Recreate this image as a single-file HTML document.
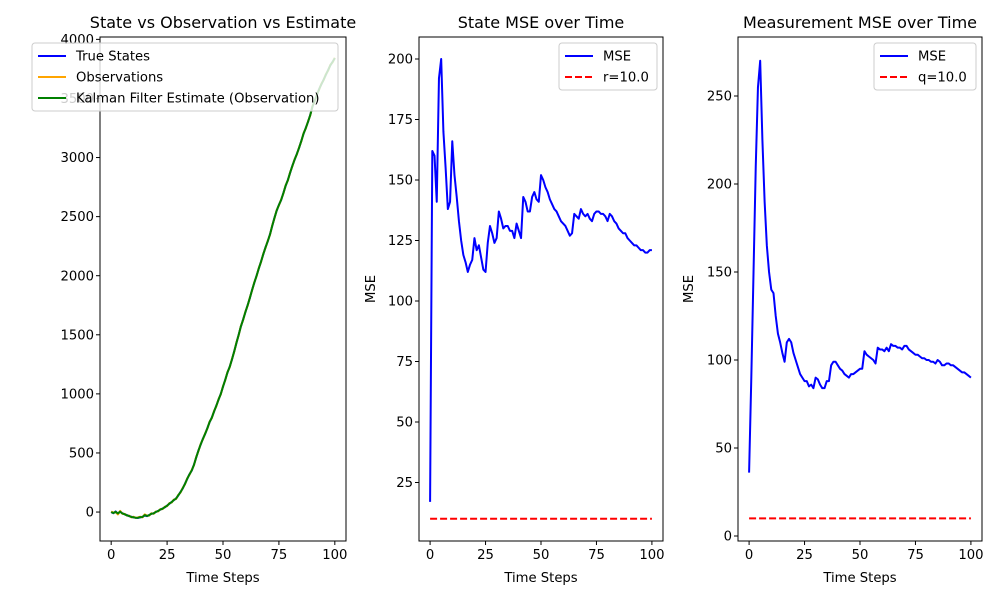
<!DOCTYPE html>
<html><head><meta charset="utf-8"><style>
body{margin:0;background:#fff}
svg{display:block;font-family:"DejaVu Sans","Liberation Sans",sans-serif}
</style></head><body>
<svg id="fig" width="1000" height="600" viewBox="0 0 1000 600" xmlns="http://www.w3.org/2000/svg"></svg>
<script>
const steps = Array.from({length:101},(_,i)=>i);
const trueStates = [0,-10,5,-15,5,-10,-20,-25,-35,-40,-45,-48,-50,-45,-40,-30,-35,-25,-15,-10,0,10,20,30,40,55,70,85,100,115,140,170,200,240,280,320,350,400,460,520,570,620,660,710,760,800,850,900,950,1000,1060,1120,1180,1230,1290,1360,1430,1500,1570,1630,1690,1750,1810,1880,1940,2000,2060,2120,2180,2240,2290,2350,2420,2490,2550,2600,2640,2700,2760,2810,2870,2930,2980,3030,3080,3140,3200,3250,3300,3360,3430,3480,3530,3580,3620,3660,3700,3740,3780,3810,3840];
const observations = [5,-5,0,-20,10,-15,-15,-30,-30,-45,-40,-50,-45,-40,-45,-20,-30,-30,-10,-15,5,5,25,25,45,50,75,80,105,110,145,165,205,235,285,315,355,395,465,515,575,615,665,705,765,795,855,895,955,995,1065,1115,1185,1225,1295,1355,1435,1495,1575,1625,1695,1745,1815,1875,1945,1995,2065,2115,2185,2235,2295,2345,2425,2485,2555,2595,2645,2695,2765,2805,2875,2925,2985,3025,3085,3135,3205,3245,3305,3355,3435,3475,3535,3575,3625,3655,3705,3735,3785,3805,3845];
const estimates = [0,-8,2,-12,3,-12,-18,-28,-33,-42,-44,-49,-48,-43,-42,-26,-33,-27,-13,-12,2,8,22,28,42,53,72,83,102,113,142,168,202,238,282,318,352,398,462,518,572,618,662,708,762,798,852,898,952,998,1062,1118,1182,1228,1292,1358,1432,1498,1572,1628,1692,1748,1812,1878,1942,1998,2062,2118,2182,2238,2292,2348,2422,2488,2552,2598,2642,2698,2762,2808,2872,2928,2982,3028,3082,3138,3202,3248,3302,3358,3432,3478,3532,3578,3622,3658,3702,3738,3782,3808,3842];
const stateMSE = [17,162,160,141,192,200,170,155,138,141,166,152,143,133,125,119,116,112,115,117,126,121,123,118,113,112,124,131,128,124,126,137,134,130,131,131,129,129,126,132,129,126,143,141,137,137,143,145,142,141,152,150,147,145,142,140,138,137,135,133,132,131,129,127,128,136,135,134,138,136,135,136,134,133,136,137,137,136,136,135,133,136,135,133,132,130,129,128,128,126,125,124,123,123,122,121,121,120,120,121,121];
const measMSE = [36,90,150,210,255,270,225,190,165,150,140,138,125,115,110,104,99,110,112,110,104,100,96,92,90,88,88,85,86,84,90,89,86,84,84,88,88,97,99,99,97,95,94,92,91,90,92,92,93,94,95,95,105,103,102,101,100,98,107,106,106,105,107,105,109,108,108,107,107,106,108,108,106,105,104,103,103,102,101,101,100,100,99,99,98,100,99,97,97,98,98,97,97,96,95,94,93,93,92,91,90];
const rValue = 10.0, qValue = 10.0;
const xTicks = [0,25,50,75,100];
const yTicks1 = [0,500,1000,1500,2000,2500,3000,3500,4000];
const yTicks2 = [25,50,75,100,125,150,175,200];
const yTicks3 = [0,50,100,150,200,250];

const svg = document.getElementById('fig');
const NS = 'http://www.w3.org/2000/svg';
function mk(tag, attrs, parent, text){
  const e = document.createElementNS(NS, tag);
  for (const k in attrs) e.setAttribute(k, attrs[k]);
  if (text !== undefined) e.textContent = text;
  (parent||svg).appendChild(e);
  return e;
}
function lin(d0,d1,r0,r1){return v=>r0+(v-d0)*(r1-r0)/(d1-d0);}

function axes(cfg){
  const g = mk('g',{});
  
  
  const X = lin(cfg.xd[0],cfg.xd[1],cfg.L,cfg.R);
  const Y = lin(cfg.yd[0],cfg.yd[1],cfg.B,cfg.T);
  cfg.series.forEach(s=>{
    const d = s.y.map((v,i)=>(i?'L':'M')+X(s.x[i]).toFixed(2)+','+Y(v).toFixed(2)).join('');
    const p = mk('path',{d, fill:'none', stroke:s.color, 'stroke-width':2, 'stroke-linejoin':'round', 'stroke-dasharray':s.dash||'none'}, g);
    
    
  });
  const fr = mk('rect',{x:cfg.L,y:cfg.T,width:cfg.R-cfg.L,height:cfg.B-cfg.T,fill:'none',stroke:'#000','stroke-width':1},g);
  
  
  xTicks.forEach(t=>{
    const x = X(t);
    mk('line',{x1:x,x2:x,y1:cfg.B,y2:cfg.B+4,stroke:'#000','stroke-width':1},g);
    const tl = mk('text',{x:x,y:cfg.B+18,'text-anchor':'middle','font-size':'13.2px'},g,String(t));
    
    
  });
  cfg.yt.forEach(t=>{
    const y = Y(t);
    mk('line',{x1:cfg.L-4,x2:cfg.L,y1:y,y2:y,stroke:'#000','stroke-width':1},g);
    const tl = mk('text',{x:cfg.L-6,y:y+4.6,'text-anchor':'end','font-size':'13.2px'},g,String(t));
    
    
  });
  const xl = mk('text',{x:(cfg.L+cfg.R)/2,y:cfg.B+41,'text-anchor':'middle','font-size':'13.2px'},g,'Time Steps');
  
  
  if (cfg.ylabel){
    const yl = mk('text',{x:0,y:0,'text-anchor':'middle','font-size':'13.2px',transform:`translate(${cfg.yl},${(cfg.T+cfg.B)/2}) rotate(-90)`},g,cfg.ylabel);
    
    
  }
  const ti = mk('text',{x:(cfg.L+cfg.R)/2,y:cfg.T-9,'text-anchor':'middle','font-size':'16px'},g,cfg.title);
  
  
  const lg = mk('g',{},g);
  
  
  const lb = cfg.legend;
  mk('rect',{x:lb.x,y:lb.y,width:lb.w,height:lb.items.length*21+5,rx:3,fill:'#fff','fill-opacity':0.8,stroke:'#ccc','stroke-width':1},lg);
  lb.items.forEach((it,i)=>{
    const yy = lb.y+13+i*21;
    mk('line',{x1:lb.x+6,x2:lb.x+34,y1:yy,y2:yy,stroke:it.color,'stroke-width':2,'stroke-dasharray':it.dash||'none'},lg);
    const t = mk('text',{x:lb.x+44,y:yy+4.6,'font-size':'13.2px'},lg,it.label);
    
    
  });
}

axes({name:'state-plot',L:100,R:346,T:37,B:541,xd:[-5,105],yd:[-245,4020],yt:yTicks1,
  title:'State vs Observation vs Estimate',
  series:[{id:'true-states-line',x:steps,y:trueStates,color:'#0000ff'},
          {id:'observations-line',x:steps,y:observations,color:'#ffa500'},
          {id:'estimate-line',x:steps,y:estimates,color:'#008000'}],
  legend:{x:32,y:43,w:306,items:[{label:'True States',color:'#0000ff'},{label:'Observations',color:'#ffa500'},{label:'Kalman Filter Estimate (Observation)',color:'#008000'}]}});

axes({name:'state-mse-plot',L:419,R:663,T:37,B:541,xd:[-5,105],yd:[200-(541-59)/2.42,200+(59-37)/2.42],yt:yTicks2,
  title:'State MSE over Time',ylabel:'MSE',yl:375,
  series:[{id:'state-mse-line',x:steps,y:stateMSE,color:'#0000ff'},
          {id:'r-reference-line',x:[0,100],y:[rValue,rValue],color:'#ff0000',dash:'7,3'}],
  legend:{x:559,y:43,w:98,items:[{label:'MSE',color:'#0000ff'},{label:'r='+rValue.toFixed(1),color:'#ff0000',dash:'7,3'}]}});

axes({name:'measurement-mse-plot',L:738,R:982,T:37,B:541,xd:[-5,105],yd:[(536-541)/1.76,(536-37)/1.76],yt:yTicks3,
  title:'Measurement MSE over Time',ylabel:'MSE',yl:693,
  series:[{id:'measurement-mse-line',x:steps,y:measMSE,color:'#0000ff'},
          {id:'q-reference-line',x:[0,100],y:[qValue,qValue],color:'#ff0000',dash:'7,3'}],
  legend:{x:874,y:43,w:102,items:[{label:'MSE',color:'#0000ff'},{label:'q='+qValue.toFixed(1),color:'#ff0000',dash:'7,3'}]}});
</script>
</body></html>
